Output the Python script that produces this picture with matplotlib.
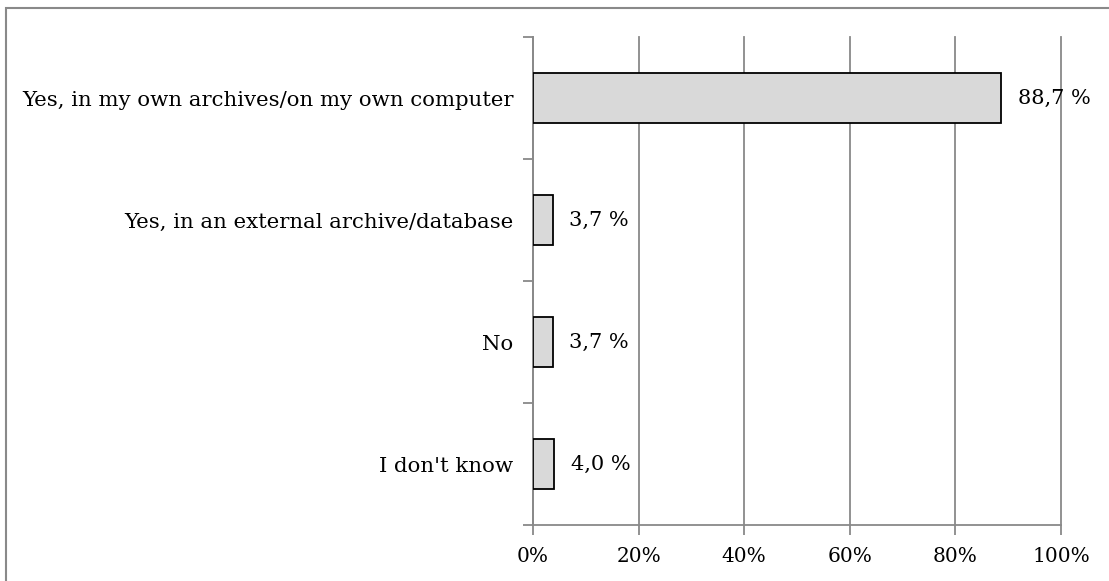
#!/usr/bin/env python

import numpy as np
import matplotlib
matplotlib.use("Agg")
import matplotlib.pyplot as plt
from matplotlib.patches import Rectangle

categories = ["Yes, in my own archives/on my own computer",
              "Yes, in an external archive/database",
              "No",
              "I don't know"]
values = [88.7, 3.7, 3.7, 4.0]
value_labels = ["88,7 %", "3,7 %", "3,7 %", "4,0 %"]
xticks = [0, 20, 40, 60, 80, 100]
xticklabels = ["0%", "20%", "40%", "60%", "80%", "100%"]

plt.rcParams['font.family'] = ['DejaVu Serif']
W, H = 1109, 581
fig = plt.figure(figsize=(W / 100, H / 100), dpi=100)
ax = fig.add_axes([533 / W, 1 - 525 / H, (1061 - 533) / W, (525 - 37) / H])

# outer frame (only left and top edges fall inside the picture)
fig.patches.append(Rectangle((5.5 / W, -0.1), 1.2, 1.1 - 7.5 / H, transform=fig.transFigure,
                             fill=False, edgecolor="#898989", linewidth=1.5))

n = len(categories)
pos = np.arange(n)[::-1] + 0.5
ax.barh(pos, values, height=0.41, color="#d9d9d9", edgecolor="black", linewidth=1.3, zorder=3)

for p, v, lab in zip(pos, values, value_labels):
    ax.annotate(lab, (v, p), xytext=(12, 0), textcoords="offset points",
                va="center", ha="left", fontsize=15)

ax.set_xlim(0, 100)
ax.set_ylim(0, n)
ax.set_xticks(xticks)
ax.set_xticklabels(xticklabels, fontsize=14.5)
ax.set_yticks(np.arange(n + 1))
ax.set_yticklabels([])
ax.set_yticks(pos, minor=True)
ax.set_yticklabels(categories, minor=True, fontsize=15.3)
ax.tick_params(axis="y", which="minor", length=0, pad=14)
ax.tick_params(axis="y", which="major", length=7, width=1.3, color="#898989")
ax.tick_params(axis="x", length=7, width=1.3, color="#898989", pad=9)
ax.grid(axis="x", color="#898989", linewidth=1.3, zorder=0)
for gl in ax.xaxis.get_gridlines():
    gl.set_clip_on(False)
for s in ["top", "right"]:
    ax.spines[s].set_visible(False)
for s in ["left", "bottom"]:
    ax.spines[s].set_color("#898989")
    ax.spines[s].set_linewidth(1.3)

fig.savefig("out.png", dpi=100)
